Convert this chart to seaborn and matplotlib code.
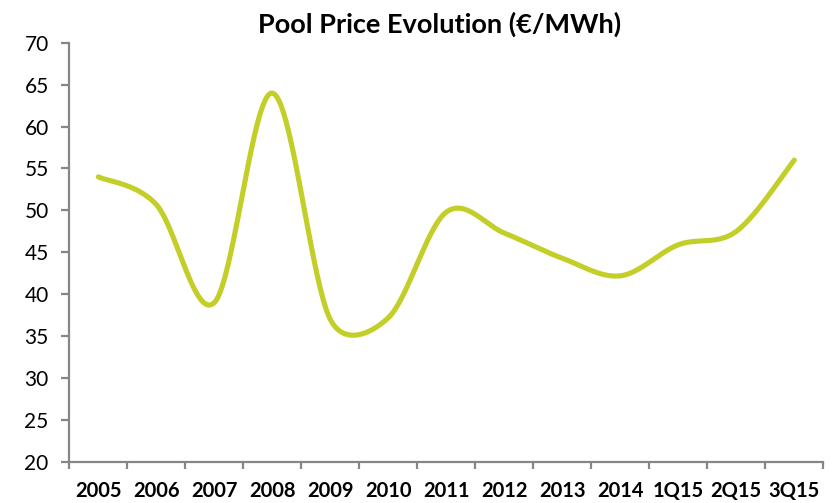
import numpy as np
import pandas as pd
import matplotlib
matplotlib.use("Agg")
import matplotlib.pyplot as plt
import seaborn as sns

categories = ["2005", "2006", "2007", "2008", "2009", "2010", "2011",
              "2012", "2013", "2014", "1Q15", "2Q15", "3Q15"]
prices = [54.0, 50.7, 39.0, 64.0, 37.0, 37.2, 49.8, 47.3, 44.3, 42.2, 45.9, 47.5, 56.0]
y_ticks = [20, 25, 30, 35, 40, 45, 50, 55, 60, 65, 70]
title = "Pool Price Evolution (€/MWh)"

sns.set_theme(style="white")
plt.rcParams["font.family"] = ["Lato", "DejaVu Sans"]

W, H = 832, 503
fig = plt.figure(figsize=(W / 100, H / 100), dpi=100)
ax = fig.add_axes([69.3 / W, 1 - 462 / H, (823.3 - 69.3) / W, (462 - 42.7) / H])
ax.set_xlim(-0.5, len(categories) - 0.5)
ax.set_ylim(20, 70)


def excel_smooth(pts, n=40):
    N = len(pts)
    out = []
    for i in range(N - 1):
        p0 = pts[i - 1] if i > 0 else pts[i]
        p1 = pts[i]
        p2 = pts[i + 1]
        p3 = pts[i + 2] if i + 2 < N else pts[i + 1]
        d02 = np.linalg.norm(p2 - p0)
        d12 = np.linalg.norm(p2 - p1)
        d13 = np.linalg.norm(p3 - p1)
        f0 = 1 / 6 if (d02 == 0 or d02 / 6 < d12 / 2) else d12 / (2 * d02)
        f1 = 1 / 6 if (d13 == 0 or d13 / 6 < d12 / 2) else d12 / (2 * d13)
        c1 = p1 + (p2 - p0) * f0
        c2 = p2 - (p3 - p1) * f1
        t = np.linspace(0, 1, n)[:, None]
        seg = ((1 - t) ** 3) * p1 + 3 * ((1 - t) ** 2) * t * c1 + 3 * (1 - t) * t ** 2 * c2 + t ** 3 * p2
        out.append(seg if i == 0 else seg[1:])
    return np.vstack(out)


xs = np.arange(len(categories), dtype=float)
disp = ax.transData.transform(np.column_stack([xs, prices]))
curve_disp = excel_smooth(disp)
curve = ax.transData.inverted().transform(curve_disp)
df = pd.DataFrame({"x": curve[:, 0], "y": curve[:, 1]})

sns.lineplot(data=df, x="x", y="y", sort=False, estimator=None, ax=ax,
             color="#C3CF28", linewidth=3.7, solid_capstyle="round")

ax.set_xlim(-0.5, len(categories) - 0.5)
ax.set_ylim(20, 70)
ax.set_xlabel("")
ax.set_ylabel("")

axis_color = "#868686"
for side in ["top", "right"]:
    ax.spines[side].set_visible(False)
for side in ["left", "bottom"]:
    ax.spines[side].set_color(axis_color)
    ax.spines[side].set_linewidth(1.6)

ax.set_yticks(y_ticks)
ax.set_yticklabels([str(v) for v in y_ticks])
ax.tick_params(axis="y", which="major", left=True, length=5.8, width=1.6,
               color=axis_color, pad=9, labelsize=15, labelcolor="black")

ax.set_xticks(xs)
ax.set_xticklabels(categories, fontweight="bold")
ax.set_xticks(np.arange(-0.5, len(categories), 1.0), minor=True)
ax.tick_params(axis="x", which="major", bottom=True, length=0, pad=14,
               labelsize=14.5, labelcolor="black")
ax.tick_params(axis="x", which="minor", bottom=True, length=5, width=1.6,
               color=axis_color)
ax.grid(False)

fig.text(439.5 / W, 1 - 24 / H, title, ha="center", va="center",
         fontsize=19.5, fontweight="bold", color="black")

fig.savefig("out.png", dpi=100)
